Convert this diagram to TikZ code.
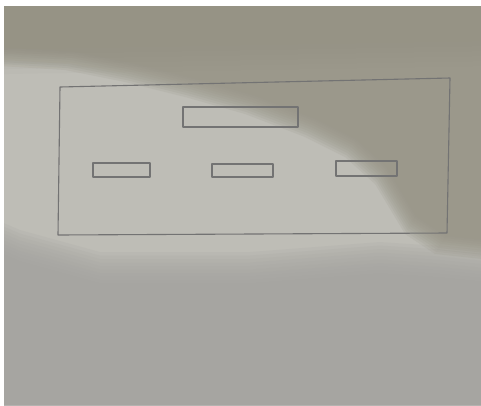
\documentclass[tikz,border=0pt]{standalone}
\begin{document}
\begin{tikzpicture}[x=1pt,y=-1pt,
  pencil/.style={draw=black!55,line width=1.1pt,line join=round},
  slot/.style={pencil,rectangle,inner sep=0pt,outer sep=0pt}]
\definecolor{paperlit}{RGB}{190,189,182}
\definecolor{papershade}{RGB}{150,147,133}
\definecolor{paperlow}{RGB}{164,163,159}
\useasboundingbox (0,0) rectangle (481,405);
\fill[white] (0,0) rectangle (481,405);
% photo background
\begin{scope}
\clip (4,6) rectangle (481,405);
\fill[paperlit] (4,6) rectangle (481,405);
% lower grey area, soft edge
\foreach \k in {0,...,9}{
  \fill[paperlow,opacity=0.16,yshift=-\k*3.5pt]
    (-50,200) -- (20,230) -- (100,252) -- (250,252) -- (380,242) -- (440,246) -- (530,255)
    -- (530,460) -- (-50,460) -- cycle;
}
% shadow over the top and right, soft edge
\foreach \k in {0,...,9}{
  \fill[papershade,opacity=0.16,xshift=\k*1.2pt,yshift=\k*2pt]
    (-50,-50) -- (530,-50) -- (530,264) -- (435,254) -- (405,234) -- (390,209)
    -- (375,184) -- (345,157) -- (305,137) -- (245,114) -- (185,97) -- (125,82)
    -- (65,70) -- (-50,63) -- cycle;
}
% darker top band
\foreach \k in {0,...,5}{
  \fill[papershade,opacity=0.06,yshift=-\k*5pt] (-50,-50) -- (530,-50) -- (530,40) -- (-50,50) -- cycle;
}
\end{scope}
% outer frame
\coordinate (tl) at (60,87);
\coordinate (tr) at (450,78);
\coordinate (br) at (447,233);
\coordinate (bl) at (58,235);
\draw[pencil] (tl) -- (tr) -- (br) -- (bl) -- cycle;
% inner slots
\node[slot,minimum width=115pt,minimum height=20pt] (top) at (240.5,117) {};
\node[slot,minimum width=57pt,minimum height=14pt] (s1) at (121.5,170) {};
\node[slot,minimum width=61pt,minimum height=13pt] (s2) at (242.5,170.5) {};
\node[slot,minimum width=61pt,minimum height=15pt] (s3) at (366.5,168.5) {};
\end{tikzpicture}
\end{document}
